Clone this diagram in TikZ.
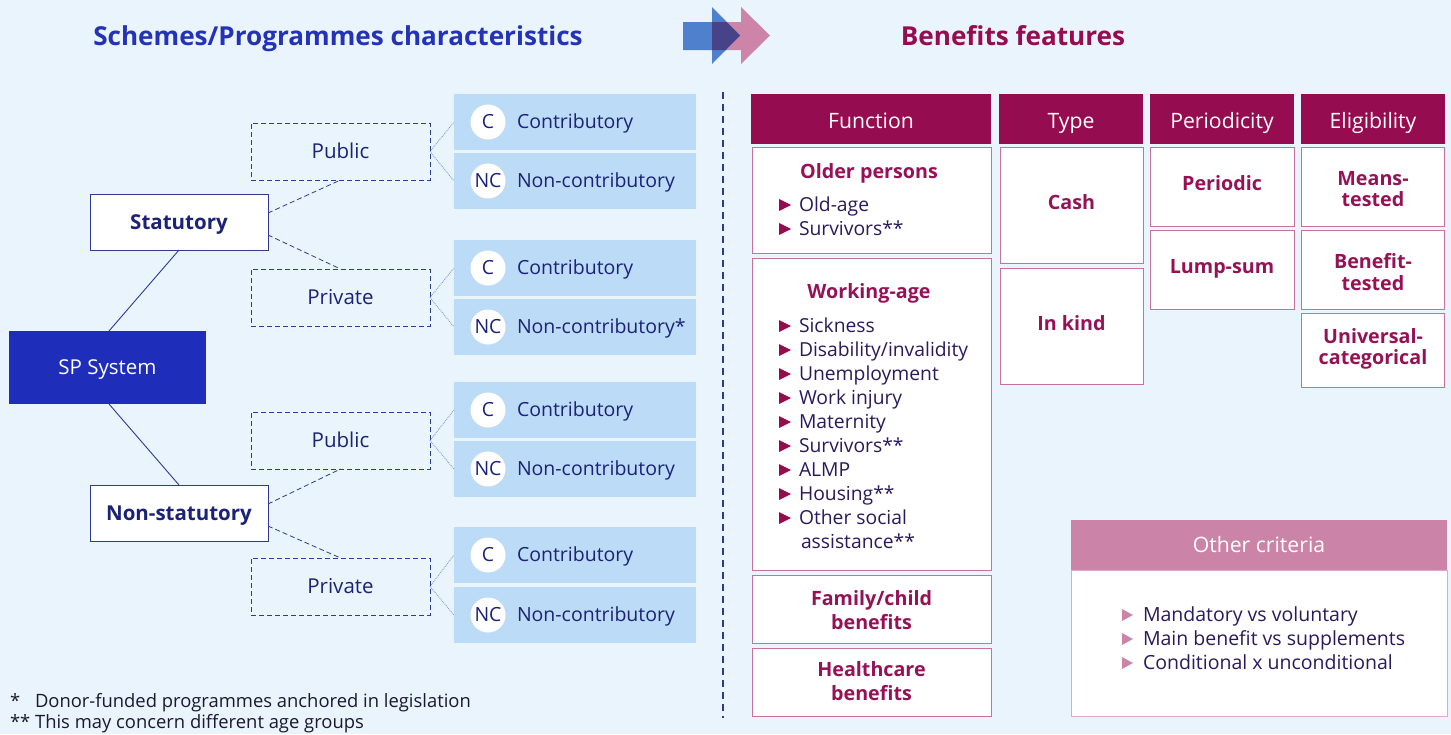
\documentclass[tikz,border=0pt]{standalone}
\usepackage{fontspec}
\setmainfont{Open Sans}
\definecolor{bg}{HTML}{EAF4FD}
\definecolor{navy}{HTML}{1B2278}
\definecolor{titleblue}{HTML}{2433B5}
\definecolor{spblue}{HTML}{1F2DBB}
\definecolor{navyline}{HTML}{2F3A94}
\definecolor{cfill}{HTML}{BCDBF7}
\definecolor{maroon}{HTML}{960C50}
\definecolor{mtext}{HTML}{961256}
\definecolor{pinkline}{HTML}{C9709F}
\definecolor{itemtext}{HTML}{2A1A5C}
\definecolor{ochead}{HTML}{CB84A7}
\definecolor{ocline}{HTML}{E2A6C6}
\definecolor{arrblue}{HTML}{4E80CE}
\definecolor{arrpink}{HTML}{CC85A8}
\definecolor{arrmix}{HTML}{484388}
\definecolor{dotline}{HTML}{7C9FD8}
\definecolor{foot}{HTML}{1A1A2E}
\newcommand{\fs}[2]{\fontsize{#1}{#2}\selectfont}
\begin{document}
\begin{tikzpicture}[x=1pt,y=-1pt,
  every node/.style={inner sep=0pt, outer sep=0pt},
  sp/.style={fill=spblue, text=white, minimum width=197pt, minimum height=73pt, font=\fs{20.5}{24}, text height=18pt, text depth=4pt},
  lvlone/.style={draw=navyline, line width=1pt, fill=white, text=navy, minimum width=178pt, minimum height=56pt, font=\fs{20.5}{24}\bfseries, text height=18pt, text depth=4pt},
  lvltwo/.style={draw=navyline, dash pattern=on 5pt off 3pt, line width=0.9pt, text=navy, minimum width=179pt, minimum height=57pt, font=\fs{20.5}{24}, text height=18pt, text depth=4pt},
  cbox/.style={fill=cfill, minimum width=242pt, minimum height=56pt},
  circ/.style={circle, fill=white, minimum size=35pt, text=navy, font=\fs{19.5}{24}},
  ctext/.style={text=navy, font=\fs{19.5}{24}, text height=14pt, text depth=4pt},
  solidcon/.style={draw=navyline, line width=0.9pt},
  dashcon/.style={draw=navyline, dash pattern=on 5pt off 3pt, line width=0.8pt},
  dotcon/.style={draw=dotline, densely dotted, line width=0.9pt},
  hdr/.style={fill=maroon, text=white, minimum height=50pt, font=\fs{21.2}{24}, text height=21pt, text depth=2pt},
  wbox/.style={draw=pinkline, line width=1pt, fill=white},
  btext/.style={text=mtext, font=\fs{19.7}{24}\bfseries, align=center},
  bone/.style={text=mtext, font=\fs{19.7}{24}\bfseries, text height=18pt, text depth=4pt},
  itext/.style={text=itemtext, font=\fs{19.3}{24}, text height=14pt, text depth=4pt, anchor=west},
  foottext/.style={text=foot, font=\fs{18.4}{21}, text height=13pt, text depth=4pt, anchor=west}
]
\fill[bg] (0,0) rectangle (1451,734);
\useasboundingbox (0,0) rectangle (1451,734);

% titles
\node[text=titleblue, font=\fs{26.1}{30}\bfseries, text height=24pt, text depth=6pt] (ltitle) at (338,36) {Schemes/Programmes characteristics};
\node[text=maroon, font=\fs{26.1}{30}\bfseries, text height=24pt, text depth=6pt] (rtitle) at (1013,36) {Benefits features};

% arrows
\fill[arrpink] (712,22) -- (741,22) -- (741,7) -- (770,35.5) -- (741,64) -- (741,50) -- (712,50) -- cycle;
\fill[arrblue] (683,22) -- (712,22) -- (712,7) -- (740,35.5) -- (712,64) -- (712,50) -- (683,50) -- cycle;
\begin{scope}
  \clip (683,22) -- (712,22) -- (712,7) -- (740,35.5) -- (712,64) -- (712,50) -- (683,50) -- cycle;
  \fill[arrmix] (712,22) -- (741,22) -- (741,7) -- (770,35.5) -- (741,64) -- (741,50) -- (712,50) -- cycle;
\end{scope}

% separator
\coordinate (vtop) at (723,92);
\coordinate (vbot) at (723,718);
\draw[navyline, line width=2pt, dash pattern=on 7pt off 5pt] (vtop) -- (vbot);

% left tree
\node[sp] (sp) at (107.5,367.5) {SP System};
\node[lvlone] (stat) at (179,222) {Statutory};
\node[lvlone] (nstat) at (179,513) {Non-statutory};
\node[lvltwo] (pu1) at (340.5,151.5) {Public};
\node[lvltwo] (pr1) at (340.5,297.5) {Private};
\node[lvltwo] (pu2) at (340.5,440.5) {Public};
\node[lvltwo] (pr2) at (340.5,586.5) {Private};

\draw[solidcon] ([xshift=1.5pt]sp.north) -- (stat.south);
\draw[solidcon] ([xshift=1.5pt]sp.south) -- (nstat.north);
\draw[dashcon] ([yshift=9pt]stat.east) -- (pu1.south);
\draw[dashcon] ([yshift=-13pt]stat.east) -- (pr1.north);
\draw[dashcon] ([yshift=9pt]nstat.east) -- (pu2.south);
\draw[dashcon] ([yshift=-13pt]nstat.east) -- (pr2.north);

\foreach \y/\ab/\tx/\n in {122/C/Contributory/1, 181/NC/Non-contributory/2, 268/C/Contributory/3, 327/NC/Non-contributory*/4, 410/C/Contributory/5, 469/NC/Non-contributory/6, 555/C/Contributory/7, 615/NC/Non-contributory/8}{
  \node[cbox] (cb\n) at (575,\y) {};
  \node[circ] (cc\n) at (488,\y) {\ab};
  \node[ctext, anchor=west] (ct\n) at (517,\y+1) {\tx};
}
\draw[dotcon] (pu1.east) -- (cb1.west);
\draw[dotcon] (pu1.east) -- (cb2.west);
\draw[dotcon] (pr1.east) -- (cb3.west);
\draw[dotcon] (pr1.east) -- (cb4.west);
\draw[dotcon] (pu2.east) -- (cb5.west);
\draw[dotcon] (pu2.east) -- (cb6.west);
\draw[dotcon] (pr2.east) -- (cb7.west);
\draw[dotcon] (pr2.east) -- (cb8.west);

% headers
\node[hdr, minimum width=240pt] (hfun) at (871,118.5) {Function};
\node[hdr, minimum width=144pt] (htype) at (1071,118.5) {Type};
\node[hdr, minimum width=144pt] (hper) at (1222,118.5) {Periodicity};
\node[hdr, minimum width=144pt] (helig) at (1373,118.5) {Eligibility};

% function column
\node[wbox, minimum width=239pt, minimum height=106pt] (older) at (871.5,200) {};
\node[wbox, minimum width=239pt, minimum height=312pt] (work) at (871.5,414) {};
\node[wbox, minimum width=239pt, minimum height=68pt] (fam) at (871.5,609) {};
\node[wbox, minimum width=239pt, minimum height=68pt] (health) at (871.5,682) {};
\node[bone] (oldt) at (869,171.7) {Older persons};
\node[bone] (workt) at (869,291.3) {Working-age};
\node[btext] (famt) at (871.5,610) {Family/child\\benefits};
\node[btext] (healtht) at (871.5,681) {Healthcare\\benefits};

\foreach \y/\tx/\n in {205/Old-age/1, 229/Survivors**/2, 326/Sickness/3, 350/Disability\slash invalidity/4, 374/Unemployment/5, 398/Work injury/6, 422/Maternity/7, 446/Survivors**/8, 470/ALMP/9, 494/Housing**/10, 518/Other social/11}{
  \fill[maroon] (779,\y-6) -- (791,\y) -- (779,\y+6) -- cycle;
  \node[itext] (fi\n) at (799,\y+1) {\tx};
}
\node[itext] (fi12) at (801,543) {assistance**};

% type column
\node[wbox, minimum width=143pt, minimum height=116pt] (cash) at (1071.5,205) {};
\node[wbox, minimum width=143pt, minimum height=116pt] (kind) at (1071.5,326) {};
\node[bone] (casht) at (1071.5,202.5) {Cash};
\node[bone] (kindt) at (1071.5,323.3) {In kind};

% periodicity column
\node[wbox, minimum width=144pt, minimum height=79pt] (peri) at (1222,186.5) {};
\node[wbox, minimum width=144pt, minimum height=79pt] (lump) at (1222,269.5) {};
\node[bone] (perit) at (1222,183.3) {Periodic};
\node[bone] (lumpt) at (1222,266.7) {Lump-sum};

% eligibility column
\node[wbox, minimum width=143pt, minimum height=79pt] (means) at (1372.5,186.5) {};
\node[wbox, minimum width=143pt, minimum height=79pt] (bent) at (1372.5,269.5) {};
\node[wbox, minimum width=143pt, minimum height=74pt] (univ) at (1372.5,350) {};
\node[btext, font=\fs{19.7}{21.7}\bfseries] (meanst) at (1373,189) {Means-\\tested};
\node[btext, font=\fs{19.7}{21.7}\bfseries] (bentt) at (1373,272) {Benefit-\\tested};
\node[btext, font=\fs{19.7}{21.7}\bfseries] (univt) at (1373,349) {Universal-\\categorical};

% other criteria
\node[draw=ocline, line width=1pt, fill=white, minimum width=376pt, minimum height=146pt] (ocbody) at (1259,643) {};
\node[fill=ochead, text=white, minimum width=376pt, minimum height=50pt, font=\fs{21.2}{24}, text height=18pt, text depth=4pt] (ochd) at (1259,545) {Other criteria};
\foreach \y/\tx/\n in {615/Mandatory vs voluntary/1, 639/Main benefit vs supplements/2, 663/Conditional x unconditional/3}{
  \fill[arrpink] (1122,\y-6) -- (1133,\y) -- (1122,\y+6) -- cycle;
  \node[itext, font=\fs{19.5}{24}] (oc\n) at (1143,\y+1) {\tx};
}

% footnotes
\node[foottext] (f1a) at (10,703) {*};
\node[foottext] (f1b) at (35,703) {Donor-funded programmes anchored in legislation};
\node[foottext] (f2) at (10,724) {** This may concern different age groups};
\end{tikzpicture}
\end{document}
